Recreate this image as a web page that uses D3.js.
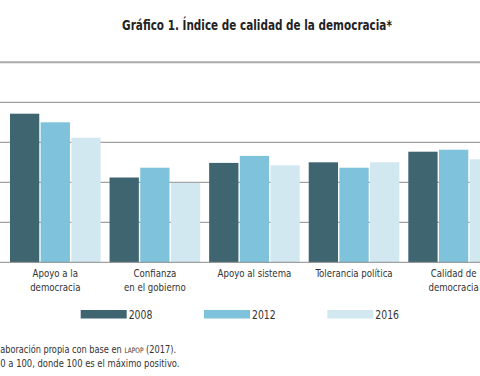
<!DOCTYPE html>
<html>
<head>
<meta charset="utf-8">
<script src="https://cdn.jsdelivr.net/npm/d3@7"></script>
<style>
  body { margin: 0; background: #fff; }
  svg { display: block; }
  text { font-family: "Liberation Sans Narrow", "DejaVu Sans Condensed", sans-serif; fill: #333; }
</style>
</head>
<body>
<svg></svg>
<script>
// data (0-100 scale)
var categories = [["Apoyo a la", "democracia"], ["Confianza", "en el gobierno"], ["Apoyo al sistema"], ["Tolerancia política"], ["Calidad de", "democracia"]];
var years = ["2008", "2012", "2016"];
var v2008 = [74.3, 42.4, 49.7, 50.0, 55.3];
var v2012 = [70.0, 47.3, 53.2, 47.3, 56.3];
var v2016 = [62.3, 39.7, 48.5, 50.0, 51.5];
var colors = ["#3f6571", "#7ec3db", "#d1e8f1"];
var ticks = [0, 20, 40, 60, 80, 100];

var width = 480, height = 376;
var svg = d3.select("svg").attr("width", width).attr("height", height);

var series = [v2008, v2012, v2016];

// squeeze text horizontally, the original uses a condensed face
function squeeze(x, y, k) {
    return "translate(" + x + "," + y + ") scale(" + k + ",1)";
}

// x band per category, then per year inside
var x0 = d3.scaleBand()
    .domain(d3.range(categories.length))
    .range([5.2, 503.7])
    .paddingInner(0.09)
    .paddingOuter(0.048);
var x1 = d3.scaleBand()
    .domain(d3.range(years.length))
    .range([0, x0.bandwidth()])
    .paddingInner(0.045);

var y = d3.scaleLinear().domain([0, 100]).range([262.3, 62.3]);

// title
svg.append("text")
    .attr("transform", squeeze(257, 30, 0.83))
    .attr("text-anchor", "middle")
    .style("font-size", "14px")
    .style("font-weight", "bold")
    .style("fill", "#222")
    .text("Gráfico 1. Índice de calidad de la democracia*");

// gridlines
svg.append("g").selectAll("line")
    .data(ticks.slice(1, 5))
    .enter().append("line")
    .attr("x1", 0).attr("x2", width)
    .attr("y1", d => y(d)).attr("y2", d => y(d))
    .style("stroke", "#8a8a8a").style("stroke-width", 1);

svg.append("line")
    .attr("x1", 0).attr("x2", width)
    .attr("y1", y(100)).attr("y2", y(100))
    .style("stroke", "#ababab").style("stroke-width", 2);

// bars
var groups = svg.append("g").selectAll("g")
    .data(categories)
    .enter().append("g")
    .attr("transform", (d, i) => "translate(" + x0(i) + ",0)");

groups.selectAll("rect")
    .data((d, i) => series.map((s, j) => ({ j: j, v: s[i] })))
    .enter().append("rect")
    .attr("x", d => x1(d.j))
    .attr("width", x1.bandwidth())
    .attr("y", d => y(d.v))
    .attr("height", d => y(0) - y(d.v))
    .style("fill", d => colors[d.j]);

// baseline
svg.append("line")
    .attr("x1", 0).attr("x2", width)
    .attr("y1", y(0)).attr("y2", y(0))
    .style("stroke", "#8a8a8a").style("stroke-width", 1);

// category labels
groups.append("text")
    .attr("transform", squeeze(x0.bandwidth() / 2, 277, 0.87))
    .attr("text-anchor", "middle")
    .style("font-size", "11px")
    .selectAll("tspan")
    .data(d => d)
    .enter().append("tspan")
    .attr("x", 0)
    .attr("y", (d, i) => i * 14)
    .text(d => d);

// legend
var legend = svg.append("g").selectAll("g")
    .data(years)
    .enter().append("g")
    .attr("transform", (d, i) => "translate(" + (80.7 + i * 123.3) + ",310)");

legend.append("rect")
    .attr("width", 46).attr("height", 8.5)
    .style("fill", (d, i) => colors[i]);

legend.append("text")
    .attr("transform", squeeze(48, 8.5, 0.9))
    .style("font-size", "11.5px")
    .text(d => d);

// notes (cut at the left edge)
var note1 = svg.append("text")
    .attr("transform", squeeze(176, 353, 0.87))
    .attr("text-anchor", "end")
    .style("font-size", "10.5px");
note1.append("tspan").text("Fuente: Elaboración propia con base en ");
note1.append("tspan").style("font-size", "7.5px").text("LAPOP");
note1.append("tspan").text(" (2017).");

svg.append("text")
    .attr("transform", squeeze(179.5, 367, 0.89))
    .attr("text-anchor", "end")
    .style("font-size", "10.5px")
    .text("* Escala de 0 a 100, donde 100 es el máximo positivo.");
</script>
</body>
</html>
